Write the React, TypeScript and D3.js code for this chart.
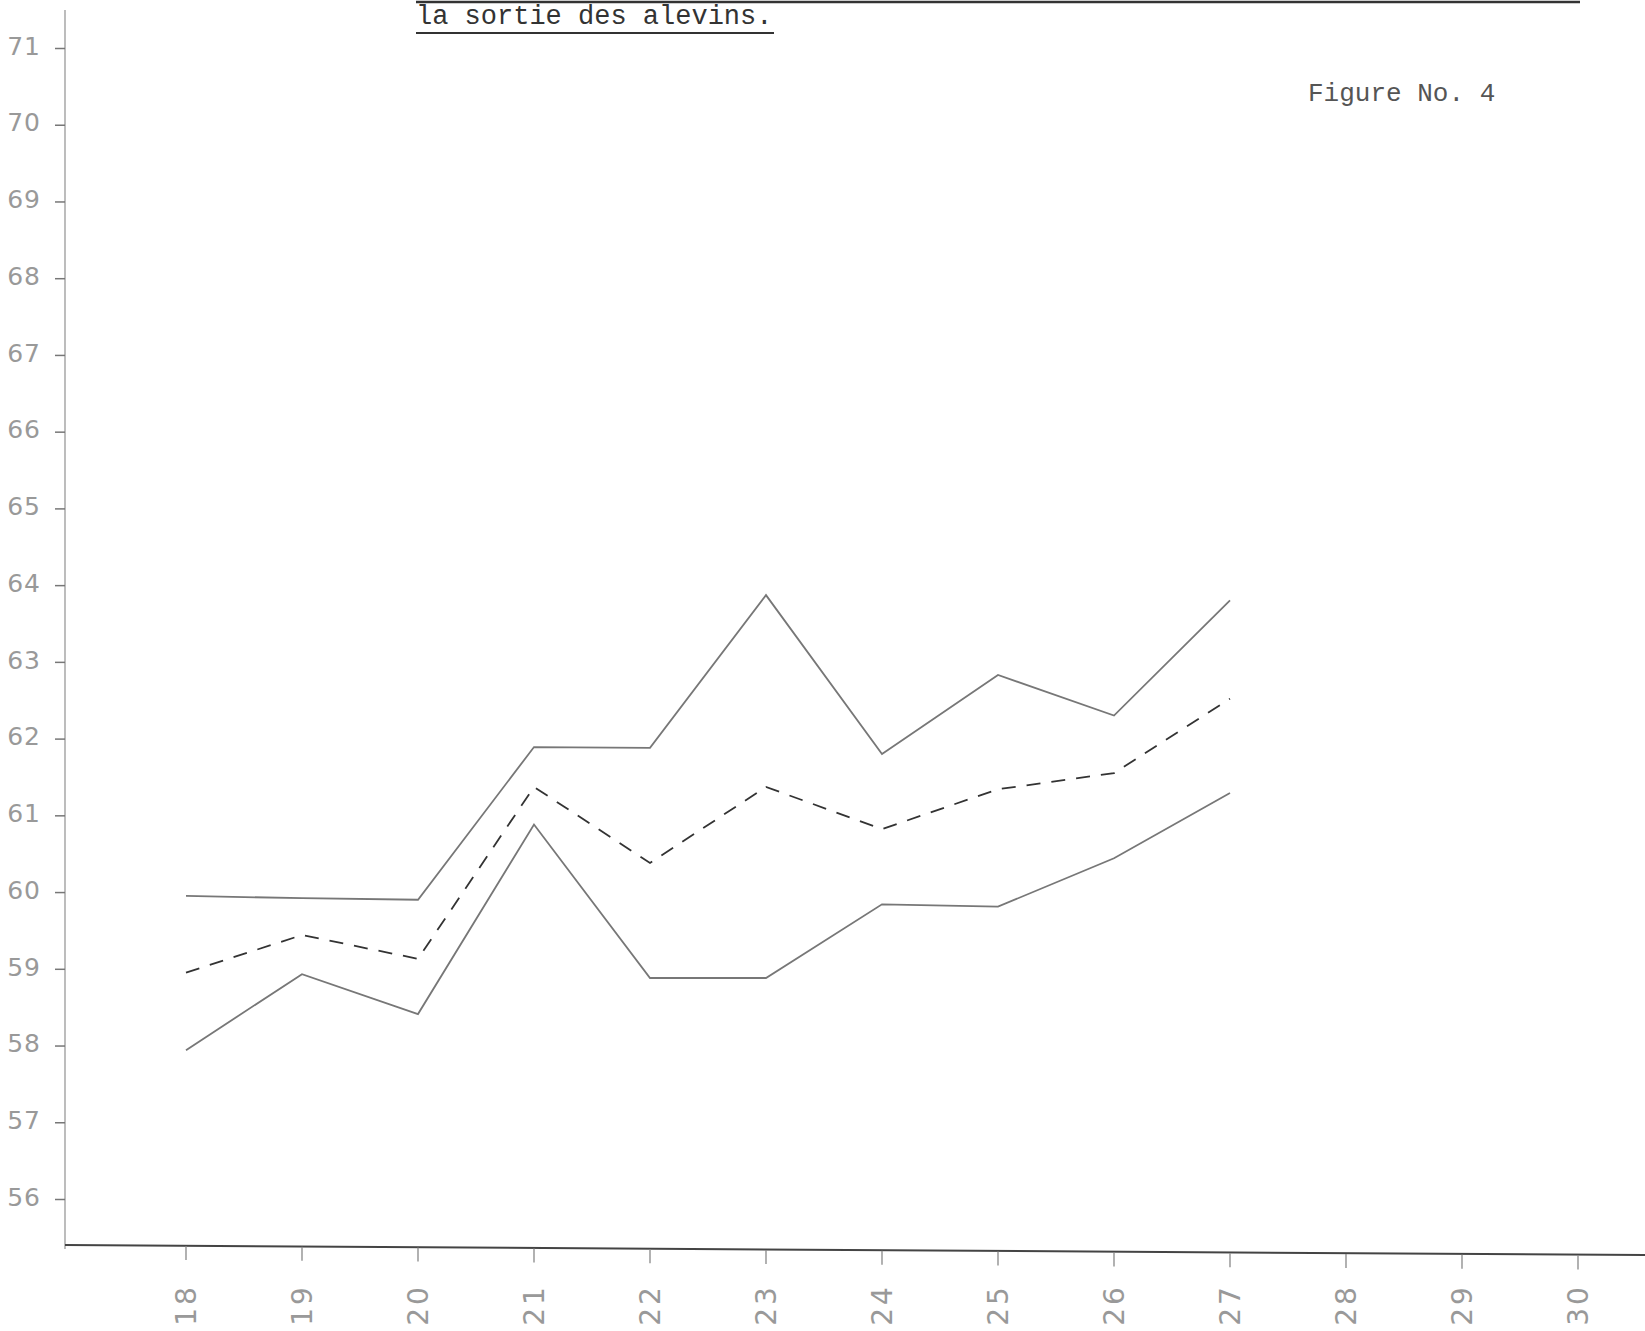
import React, { useEffect, useRef } from 'react'
import * as d3 from 'd3'

const days = [18, 19, 20, 21, 22, 23, 24, 25, 26, 27]
const upperValues = [59.95, 59.92, 59.9, 61.89, 61.88, 63.87, 61.8, 62.83, 62.3, 63.8]
const meanValues = [58.95, 59.44, 59.13, 61.37, 60.38, 61.37, 60.82, 61.34, 61.55, 62.52]
const lowerValues = [57.94, 58.93, 58.41, 60.88, 58.88, 58.88, 59.84, 59.81, 60.44, 61.29]
const xTicks = [18, 19, 20, 21, 22, 23, 24, 25, 26, 27, 28, 29, 30]
const yTicks = [56, 57, 58, 59, 60, 61, 62, 63, 64, 65, 66, 67, 68, 69, 70, 71]
const titleLine = 'la sortie des alevins.'
const figureLabel = 'Figure No. 4'

const W = 1645
const H = 1331

export default function App() {
  const ref = useRef<SVGSVGElement>(null)

  useEffect(() => {
    const svg = d3.select(ref.current)
    svg.selectAll('*').remove()

    const x = d3.scaleLinear().domain([18, 30]).range([186, 1578])
    const y = d3.scaleLinear().domain([56, 71]).range([1199, 48])
    const axisX = 65
    const baseY = 1249

    svg.append('rect').attr('width', W).attr('height', H).attr('fill', '#fff')

    // title remnants (typewritten)
    svg.append('line')
      .attr('x1', 416).attr('x2', 1580).attr('y1', 2).attr('y2', 2)
      .attr('stroke', '#333').attr('stroke-width', 2.5)
    svg.append('text')
      .attr('x', 416).attr('y', 24)
      .attr('font-family', 'Liberation Mono, DejaVu Sans Mono, monospace')
      .attr('font-size', 27).attr('fill', '#333')
      .text(titleLine)
    svg.append('line')
      .attr('x1', 416).attr('x2', 774).attr('y1', 33).attr('y2', 33)
      .attr('stroke', '#333').attr('stroke-width', 1.8)
    svg.append('text')
      .attr('x', 1308).attr('y', 101)
      .attr('font-family', 'Liberation Mono, DejaVu Sans Mono, monospace')
      .attr('font-size', 26).attr('fill', '#555')
      .text(figureLabel)

    // y axis
    svg.append('line')
      .attr('x1', axisX).attr('x2', axisX).attr('y1', 10).attr('y2', baseY)
      .attr('stroke', '#999').attr('stroke-width', 1.3)
    const yAxis = svg.append('g')
      .attr('transform', `translate(${axisX},0)`)
      .call(d3.axisLeft(y).tickValues(yTicks).tickSize(10).tickPadding(14).tickFormat(d3.format('d')))
    yAxis.select('.domain').remove()
    yAxis.selectAll('.tick line').attr('stroke', '#777').attr('stroke-width', 1.5)
    yAxis.selectAll('.tick text')
      .attr('font-family', 'DejaVu Sans, sans-serif')
      .attr('font-size', 25).attr('fill', '#999')
      .attr('letter-spacing', 1)
      .attr('dy', '0.25em')

    // x axis
    svg.append('line')
      .attr('x1', axisX).attr('x2', W).attr('y1', baseY - 4).attr('y2', baseY + 6)
      .attr('stroke', '#444').attr('stroke-width', 2)
    const xg = svg.append('g')
    xg.selectAll('line.tk')
      .data(xTicks)
      .enter().append('line')
      .attr('class', 'tk')
      .attr('x1', d => x(d)).attr('x2', d => x(d))
      .attr('y1', (d, i) => baseY - 3 + i * 0.8).attr('y2', (d, i) => baseY + 11 + i * 0.8)
      .attr('stroke', '#888').attr('stroke-width', 1.3)
    xg.selectAll('text')
      .data(xTicks)
      .enter().append('text')
      .attr('transform', d => `translate(${x(d) + 10},${1305}) rotate(-90)`)
      .attr('text-anchor', 'middle')
      .attr('font-family', 'DejaVu Sans, sans-serif')
      .attr('font-size', 28).attr('fill', '#999')
      .attr('letter-spacing', 3)
      .text(d => d)

    const line = d3.line<number>()
      .x((d, i) => x(days[i]))
      .y(d => y(d))

    svg.append('path')
      .attr('d', line(upperValues))
      .attr('fill', 'none').attr('stroke', '#777').attr('stroke-width', 1.8)
    svg.append('path')
      .attr('d', line(lowerValues))
      .attr('fill', 'none').attr('stroke', '#777').attr('stroke-width', 1.8)
    svg.append('path')
      .attr('d', line(meanValues))
      .attr('fill', 'none').attr('stroke', '#333').attr('stroke-width', 1.8)
      .attr('stroke-dasharray', '14,11')
  }, [])

  return (
    <svg
      ref={ref}
      width={W}
      height={H}
      style={{ position: 'absolute', left: 0, top: 0, display: 'block' }}
    />
  )
}
